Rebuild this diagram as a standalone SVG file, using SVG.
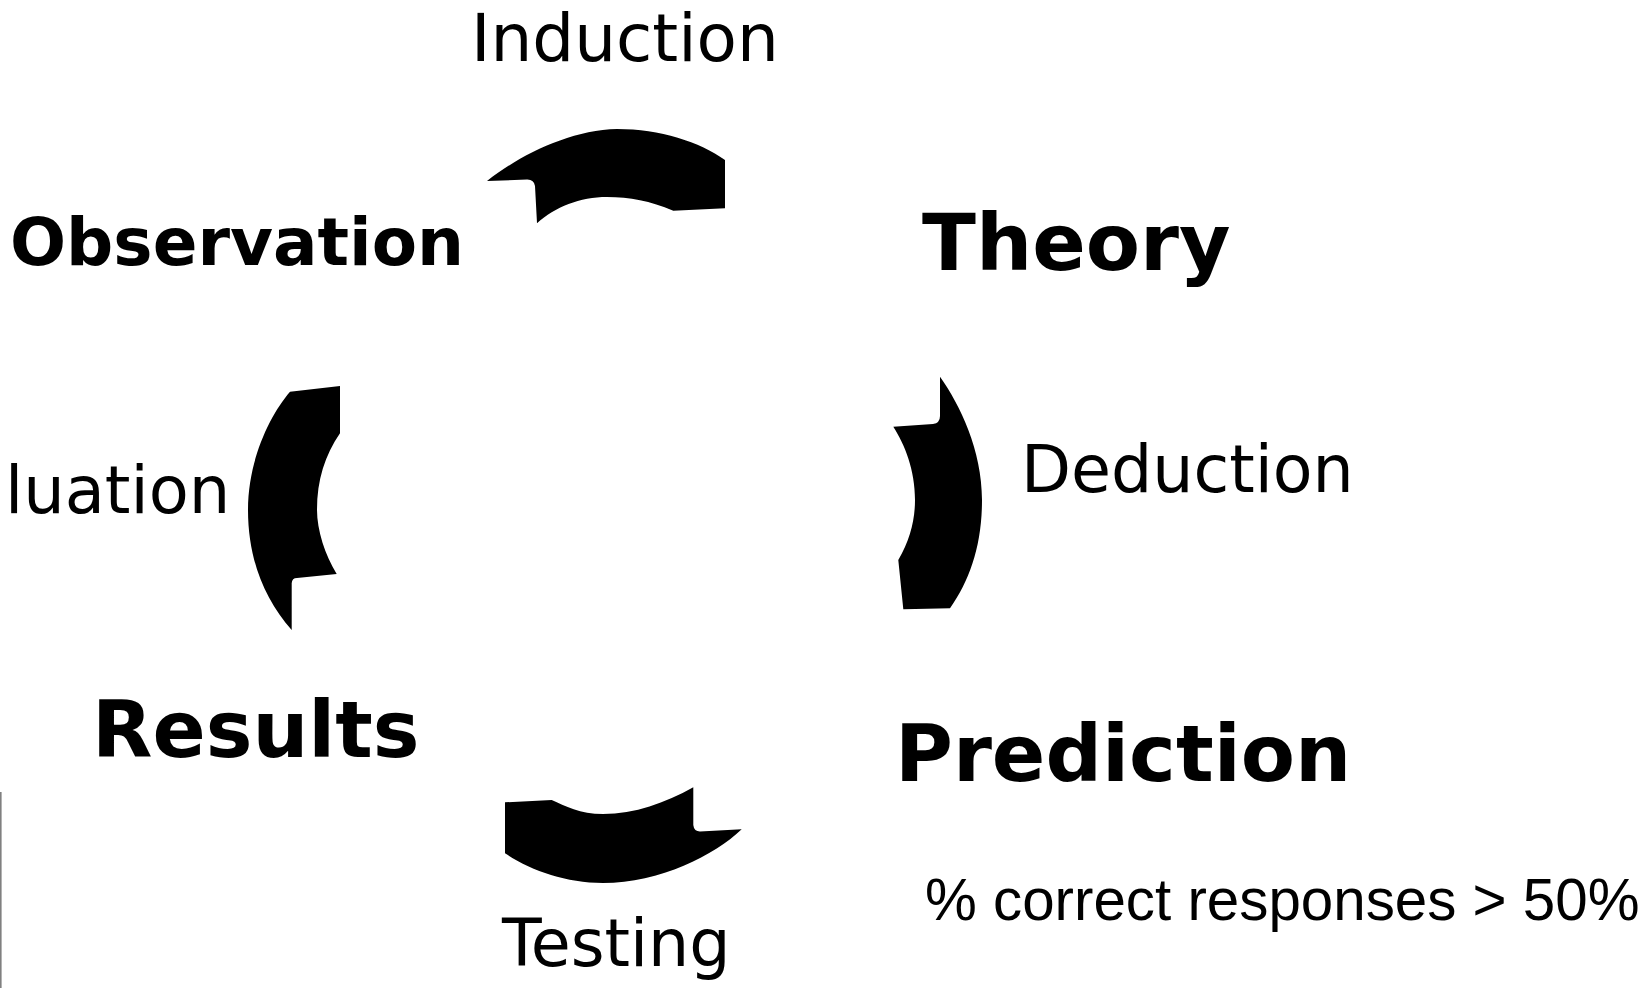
<svg xmlns="http://www.w3.org/2000/svg" width="1652" height="988" viewBox="0 0 1652 988">
  <style>
    .stage { font-family: "DejaVu Sans", "Liberation Sans", sans-serif; font-weight: bold; fill: #000; }
    .step { font-family: "DejaVu Sans", "Liberation Sans", sans-serif; font-weight: normal; fill: #000; }
    .note { font-family: "Liberation Sans", Arial, sans-serif; fill: #000; }
    .arrow { fill: #000; stroke: none; }
  </style>
  <rect width="1652" height="988" fill="#fff"/>

  <!-- curved cycle arrows -->
  <g id="connectors">
    <!-- Observation -> Theory (induction) -->
    <path id="arrow-induction" class="arrow" d="M 487,181 C 520,155 570,130 617,129 C 660,129 700,142 725,160 L 725,208.3 L 673.3,210.7 C 650,201 630,197 607,197 C 580,197 555,207 537,223.3 L 535,186 Q 534,179.3 527,179.5 Z"/>
    <!-- Theory -> Prediction (deduction) -->
    <path id="arrow-deduction" class="arrow" d="M 940,376.7 C 960,405 982,450 982,500 C 982,545 970,580 950,608.3 L 903.3,609.3 L 898.3,560 C 910,540 915,520 915,500 C 915,470 905,445 893.3,426.7 L 933,424 Q 940,423 940,416 Z"/>
    <!-- Prediction -> Results (testing) -->
    <path id="arrow-testing" class="arrow" d="M 505,802.3 L 551.7,800 C 565,806 580,814 603,814 C 635,814 665,803 693.3,787.3 L 693.3,825 Q 694,831.5 700,831.5 L 741.7,829.3 C 715,855 660,883 603,883 C 565,883 530,870 505,853.3 Z"/>
    <!-- Results -> Observation (evaluation) -->
    <path id="arrow-evaluation" class="arrow" d="M 340,386 L 290,391.7 C 270,415 248,460 248,510 C 248,560 265,600 291.7,630 L 291.7,583.3 Q 292,578 297,578 L 336.7,574 C 325,555 317,530 317,510 C 317,480 325,455 340,433.3 Z"/>
  </g>

  <!-- stages of the cycle -->
  <g id="node-observation"><text class="stage" x="10" y="265" font-size="66">Observation</text></g>
  <g id="node-theory"><text class="stage" x="922" y="270" font-size="79">Theory</text></g>
  <g id="node-prediction"><text class="stage" x="895" y="781" font-size="79">Prediction</text></g>
  <g id="node-results"><text class="stage" x="92" y="757" font-size="78.5">Results</text></g>

  <!-- step labels beside the arrows -->
  <g id="label-induction"><text class="step" x="471" y="61" font-size="66">Induction</text></g>
  <g id="label-deduction"><text class="step" x="1021" y="492" font-size="65">Deduction</text></g>
  <g id="label-testing"><text class="step" x="502" y="966" font-size="65">Testing</text></g>
  <g id="label-evaluation"><text class="step" x="5" y="513" font-size="65.5">luation</text></g>

  <!-- criterion note -->
  <g id="note-criterion"><text class="note" x="925" y="920" font-size="58.3">% correct responses &gt; 50%</text></g>

  <!-- thin rule at the lower left edge -->
  <rect x="0" y="792" width="1.6" height="196" fill="#808080"/>
</svg>
